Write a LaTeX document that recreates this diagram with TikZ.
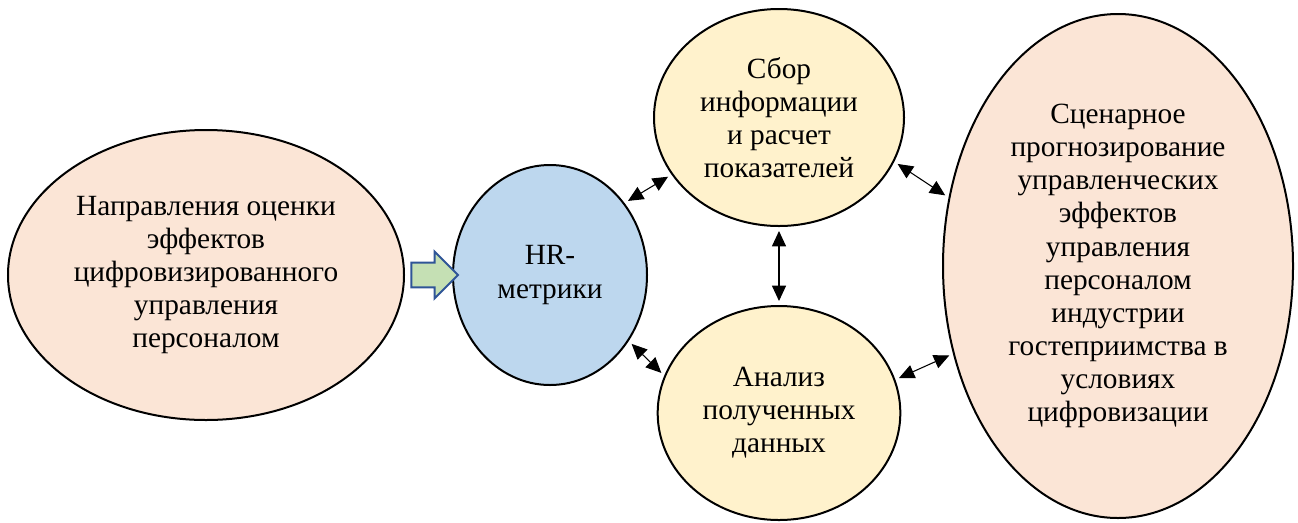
\documentclass[tikz,border=0pt]{standalone}
\usepackage{fontspec}
\setmainfont{Liberation Serif}
\usepackage{tikz}
\usetikzlibrary{arrows.meta, calc, shapes.geometric, shapes.arrows}
\definecolor{peach}{RGB}{251,229,214}
\definecolor{hrblue}{RGB}{189,215,238}
\definecolor{paleyellow}{RGB}{255,242,204}
\definecolor{arrowgreen}{RGB}{197,224,180}
\definecolor{arrowblue}{RGB}{47,85,151}

\begin{document}
\begin{tikzpicture}[x=0.75pt, y=-0.75pt,
  blob/.style={ellipse, draw=black, line width=1.5pt, inner sep=0pt, align=center,
               font=\fontsize{22}{24.8}\selectfont},
  outer/.style={blob, fill=peach},
  metric/.style={blob, fill=hrblue},
  stage/.style={blob, fill=paleyellow},
  blockarrow/.style={single arrow, draw=arrowblue, fill=arrowgreen, line width=1.5pt,
                     minimum height=35pt, inner xsep=0pt, inner ysep=8.6pt,
                     single arrow head extend=8.25pt},
  dbl/.style={{Triangle[length=11.5pt,width=10.5pt]}-{Triangle[length=11.5pt,width=10.5pt]},
              line width=0.8pt, shorten >=3pt, shorten <=3pt}]

\useasboundingbox (0,0) rectangle (1298,522);

\node[outer, minimum width=297pt, minimum height=217.5pt] (dir) at (206,275)
  {Направления оценки\\эффектов\\цифровизированного\\управления\\персоналом};
\node[metric, minimum width=145.5pt, minimum height=165pt] (hr) at (550,275)
  {HR-\\метрики};
\node[stage, minimum width=187.5pt, minimum height=162.75pt] (sbor) at (779,117.5)
  {Сбор\\информации\\и расчет\\показателей};
\node[stage, minimum width=182pt, minimum height=160.5pt] (analiz) at (779,413)
  {Анализ\\полученных\\данных};
\node[outer, minimum width=262.5pt, minimum height=378pt] (scen) at (1118,266)
  {Сценарное\\прогнозирование\\управленческих\\эффектов\\управления\\персоналом\\индустрии\\гостеприимства в\\условиях\\цифровизации};

% block arrow into the metrics
\node[blockarrow] (pfeil) at ($(dir.east)!0.5!(hr.west)$) {};

% two-way links
\draw[dbl] (hr.44) -- (sbor.208);
\draw[dbl] (hr.-40) -- (analiz.162);
\draw[dbl] (sbor.south) -- (analiz.north);
\draw[dbl] (sbor.-21) -- (scen.158);
\draw[dbl] (analiz.16) -- (scen.208);

\end{tikzpicture}
\end{document}
